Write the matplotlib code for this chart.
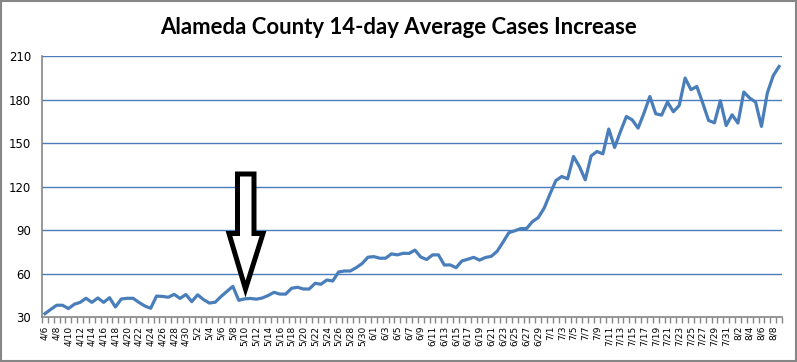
import matplotlib
matplotlib.use("Agg")
import matplotlib.pyplot as plt
from matplotlib.patches import Polygon, Rectangle
import pandas as pd
import numpy as np

title = "Alameda County 14-day Average Cases Increase"
dates = pd.date_range("2020-04-06", "2020-08-09", freq="D")
date_labels = [f"{d.month}/{d.day}" for d in dates]

values = [
    32.5, 35.5, 38.3, 38.3, 36.0, 39.0, 40.3, 43.1, 40.3, 43.3,
    40.3, 43.5, 37.1, 42.6, 43.1, 43.1, 40.3, 37.8, 36.2, 44.6,
    44.4, 43.8, 45.8, 43.0, 45.7, 40.8, 45.5, 42.2, 39.8, 40.4,
    44.4, 47.9, 51.3, 41.7, 42.7, 43.0, 42.5, 43.3, 45.0, 47.2,
    46.0, 46.0, 50.0, 50.7, 49.5, 49.5, 53.4, 52.8, 55.7, 55.0,
    61.2, 61.9, 61.9, 64.2, 67.0, 71.4, 71.8, 70.7, 70.7, 73.7,
    73.0, 74.1, 74.0, 76.3, 71.5, 69.8, 73.0, 73.0, 66.0, 66.1,
    64.2, 68.8, 70.0, 71.3, 69.4, 71.2, 72.0, 75.5, 81.8, 88.3,
    89.6, 91.1, 91.1, 95.9, 98.7, 105.2, 115.0, 124.2, 127.0, 125.4,
    140.8, 133.9, 124.7, 141.2, 144.2, 142.6, 159.7, 147.0, 158.0, 168.3,
    166.0, 160.3, 170.7, 182.1, 170.2, 169.3, 178.3, 171.6, 175.9, 194.8,
    186.8, 189.0, 177.6, 165.6, 164.0, 179.2, 162.1, 169.5, 163.8, 185.2,
    181.0, 178.3, 161.5, 184.5, 196.4, 202.8,
]
y_ticks = [30, 60, 90, 120, 150, 180, 210]

W, H = 797, 362
fig = plt.figure(figsize=(W / 100, H / 100), dpi=100)

left, right, top, bottom = 42, 782, 56, 317.3
ax = fig.add_axes([left / W, 1 - bottom / H, (right - left) / W, (bottom - top) / H])

x = np.arange(len(values))
ax.plot(x, values, color="#4A7EBB", lw=2.3, solid_joinstyle="round", zorder=3)

ax.set_xlim(-0.5, len(values) - 0.5)
ax.set_ylim(30, 210)
ax.set_yticks(y_ticks)
ax.set_yticklabels([str(v) for v in y_ticks], fontsize=8.4, family="DejaVu Sans")
ax.tick_params(axis="y", length=0, pad=8)
for v in y_ticks[1:]:
    ax.axhline(v, color="#4A7EBB", lw=1.0, zorder=1)

major = x[::2]
ax.set_xticks(major)
ax.set_xticklabels([date_labels[i] for i in major], rotation=90, fontsize=6.5,
                   family="DejaVu Sans", va="top", ha="center")
ax.set_xticks(np.arange(len(values) + 1) - 0.5, minor=True)
ax.tick_params(axis="x", which="major", length=0, pad=6)
ax.tick_params(axis="x", which="minor", length=4, color="#868686", width=1)

for s in ["top", "right"]:
    ax.spines[s].set_visible(False)
ax.spines["left"].set_color("#868686")
ax.spines["bottom"].set_color("#868686")
ax.spines["left"].set_linewidth(1.2)
ax.spines["bottom"].set_linewidth(1.2)

fig.text(399 / W, 1 - 27 / H, title, ha="center", va="center",
         fontsize=15.9, fontweight="bold", family="Lato")

# arrow annotation (pixel coordinates of the outline)
arrow_px = [(237.5, 174), (254, 174), (254, 233.5), (263, 233.5),
            (245.5, 289), (229, 233.5), (237.5, 233.5)]
arrow = Polygon([(px / W, 1 - py / H) for px, py in arrow_px], closed=True,
                transform=fig.transFigure, facecolor="white", edgecolor="black",
                lw=3.6, joinstyle="miter", zorder=5)
fig.patches.append(arrow)

fig.patches.append(Rectangle((0.8 / W, 0.8 / H), (W - 1.6) / W, (H - 1.6) / H,
                             transform=fig.transFigure, fill=False,
                             edgecolor="#868686", lw=1.5))

fig.savefig("out.png", dpi=100)
